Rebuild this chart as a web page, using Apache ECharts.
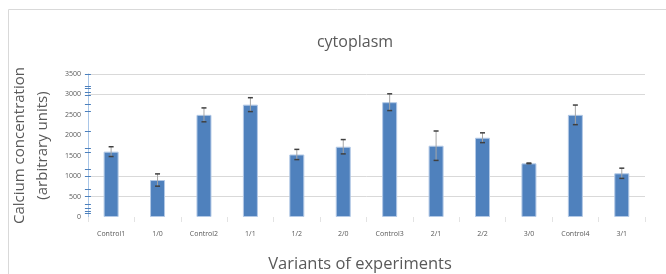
<!DOCTYPE html>
<html>
<head>
<meta charset="utf-8">
<script src="https://cdn.jsdelivr.net/npm/echarts@6/dist/echarts.min.js"></script>
<style>
  html, body { margin: 0; padding: 0; background: #fff; }
  #main { width: 666px; height: 274px; }
</style>
</head>
<body>
<div id="main"></div>
<script>
// data
var variants = ['Control1', '1/0', 'Control2', '1/1', '1/2', '2/0', 'Control3', '2/1', '2/2', '3/0', 'Control4', '3/1'];
var calcium = [1600, 905, 2500, 2750, 1530, 1720, 2810, 1745, 1940, 1313, 2500, 1070];
var errors = [120, 150, 170, 170, 125, 175, 205, 360, 120, 8, 240, 125];
var yTicks = [3500, 3210, 3150, 3050, 2990, 2760, 2580, 2090, 1680, 1580, 1175, 990, 690, 500, 300, 220, 150, 80];
var gridValues = [500, 1000, 3000, 3500];

(function () {
  var myChart = echarts.init(document.getElementById('main'));

  var errData = calcium.map(function (v, i) {
    return [i, v - errors[i], v + errors[i]];
  });

  var font = 'Open Sans';
  var option = {
    animation: false,
    textStyle: { fontFamily: font },
    graphic: [{
      type: 'rect',
      shape: { x: 8.5, y: 9.5, width: 700, height: 300 },
      style: { fill: 'none', stroke: '#d9d9d9', lineWidth: 1 },
      silent: true
    }],
    title: [
      {
        text: 'cytoplasm',
        left: 350, top: 29, textAlign: 'center',
        textStyle: { fontFamily: font, fontSize: 16, fontWeight: 'normal', color: '#595959' }
      },
      {
        text: 'Variants of experiments',
        left: 355, top: 251, textAlign: 'center',
        textStyle: { fontFamily: font, fontSize: 16.5, fontWeight: 'normal', color: '#595959' }
      }
    ],
    grid: { left: 87, right: 21, top: 74, bottom: 57 },
    xAxis: {
      type: 'category',
      data: variants,
      axisLine: { show: false },
      axisTick: { show: true, interval: 0, length: 5, lineStyle: { color: '#e3e3e3' } },
      axisLabel: { interval: 0, fontSize: 7, color: '#595959', margin: 13 }
    },
    yAxis: [
      {
        type: 'value',
        min: 0, max: 3500, interval: 500,
        name: 'Calcium concentration\n(arbitrary units)',
        nameLocation: 'middle',
        nameGap: 33,
        nameTextStyle: { fontFamily: font, fontSize: 15, color: '#595959', lineHeight: 23 },
        axisLine: { show: true, lineStyle: { color: '#a9c6e8' } },
        axisTick: { show: true, length: 3, customValues: yTicks, lineStyle: { color: '#4a7ebb' } },
        axisLabel: { fontSize: 7, color: '#595959', margin: 7, formatter: function (v) { return String(v); } },
        splitLine: { show: false }
      },
      {
        type: 'value',
        min: 0, max: 3500, interval: 500,
        position: 'left',
        axisLine: { show: false },
        axisTick: { show: true, inside: true, length: 3, customValues: yTicks, lineStyle: { color: '#4a7ebb' } },
        axisLabel: { show: false },
        splitLine: { show: false }
      }
    ],
    series: [
      {
        name: 'grid',
        type: 'line',
        data: [],
        z: 0,
        markLine: {
          z: 0,
          silent: true,
          symbol: 'none',
          label: { show: false },
          lineStyle: { color: '#d9d9d9', type: 'solid', width: 1 },
          data: gridValues.map(function (v) { return { yAxis: v }; })
        }
      },
      {
        name: 'cytoplasm',
        type: 'bar',
        data: calcium,
        barWidth: 15,
        itemStyle: { color: '#4f81bd', borderColor: '#b3c9e6', borderWidth: 1 },
        z: 2
      },
      {
        name: 'error',
        type: 'custom',
        data: errData,
        z: 3,
        renderItem: function (params, api) {
          var x = api.value(0);
          var lo = api.coord([x, api.value(1)]);
          var hi = api.coord([x, api.value(2)]);
          var w = 2.5;
          return {
            type: 'group',
            children: [
              {
                type: 'line',
                shape: { x1: lo[0], y1: lo[1], x2: hi[0], y2: hi[1] },
                style: { stroke: '#a6a6a6', lineWidth: 1 }
              },
              {
                type: 'line',
                shape: { x1: hi[0] - w, y1: hi[1], x2: hi[0] + w, y2: hi[1] },
                style: { stroke: '#404040', lineWidth: 1.5 }
              },
              {
                type: 'line',
                shape: { x1: lo[0] - w, y1: lo[1], x2: lo[0] + w, y2: lo[1] },
                style: { stroke: '#404040', lineWidth: 1.5 }
              }
            ]
          };
        }
      }
    ]
  };
  myChart.setOption(option);
})();
</script>
</body>
</html>
